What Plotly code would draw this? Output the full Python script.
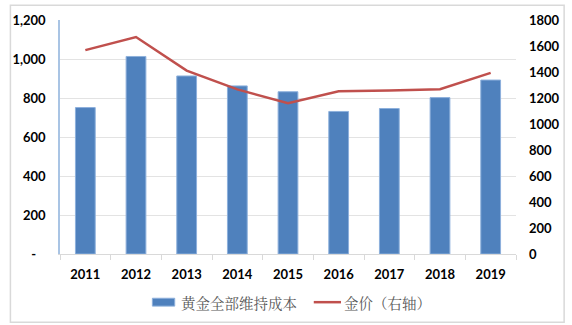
import plotly.graph_objects as go

years = ["2011", "2012", "2013", "2014", "2015", "2016", "2017", "2018", "2019"]
aisc = [751, 1013, 913, 862, 832, 731, 746, 802, 892]          # 黄金全部维持成本
gold_price = [1568, 1669, 1411, 1266, 1160, 1251, 1257, 1268, 1393]  # 金价

left_ticks = [0, 200, 400, 600, 800, 1000, 1200]
left_labels = ["-\u00a0\u00a0\u00a0", "200", "400", "600", "800", "1,000", "1,200"]
right_ticks = [0, 200, 400, 600, 800, 1000, 1200, 1400, 1600, 1800]

bar_name = "黄金全部维持成本"
line_name = "金价（右轴）"
bar_color = "#4F81BD"
line_color = "#C0504D"

W, H = 572, 325
ML, MR, MT, MB = 52, 51, 16, 71
pw, ph = W - ML - MR, H - MT - MB


def px_x(x):
    return (x - ML) / pw


def px_y(y):
    return (H - MB - y) / ph


tick_font = dict(family="Lato, Carlito, Liberation Sans, sans-serif", size=13,
                 color="#000000", weight="bold")
legend_font = dict(family="Noto Serif CJK SC, Noto Sans CJK SC, serif", size=14.5, color="#595959")

fig = go.Figure()
fig.add_trace(go.Bar(
    x=years, y=aisc, name=bar_name,
    marker=dict(color=bar_color, line=dict(color="#8db0dc", width=1)),
    yaxis="y",
))
fig.add_trace(go.Scatter(
    x=years, y=gold_price, name=line_name, mode="lines",
    line=dict(color=line_color, width=2.5),
    yaxis="y2",
))

# outer chart border
fig.add_shape(type="rect", xref="paper", yref="paper",
              x0=px_x(1), x1=px_x(W - 1.5), y0=px_y(H - 1.5), y1=px_y(1),
              line=dict(color="#d9d9d9", width=1.5), layer="below")

# legend keys and labels
fig.add_shape(type="rect", xref="paper", yref="paper",
              x0=px_x(147), x1=px_x(170), y0=px_y(307), y1=px_y(299),
              fillcolor=bar_color, line=dict(color="#8db0dc", width=1))
fig.add_annotation(xref="paper", yref="paper", x=px_x(174), y=px_y(303),
                   xanchor="left", yanchor="middle", showarrow=False,
                   text=bar_name, font=legend_font)
fig.add_shape(type="line", xref="paper", yref="paper",
              x0=px_x(313), x1=px_x(341), y0=px_y(303), y1=px_y(303),
              line=dict(color=line_color, width=2.5))
fig.add_annotation(xref="paper", yref="paper", x=px_x(342), y=px_y(303),
                   xanchor="left", yanchor="middle", showarrow=False,
                   text=line_name, font=legend_font)

fig.update_layout(
    width=W, height=H,
    margin=dict(l=ML, r=MR, t=MT, b=MB),
    paper_bgcolor="white", plot_bgcolor="white",
    bargap=0.61,
    showlegend=False,
    xaxis=dict(type="category", showgrid=False, showline=True, linecolor="#d9d9d9", linewidth=1,
               ticks="outside", tickson="boundaries", ticklen=5, tickcolor="#d9d9d9",
               tickfont=tick_font, ticklabelstandoff=8),
    yaxis=dict(range=[0, 1200], tickvals=left_ticks, ticktext=left_labels,
               showgrid=True, gridcolor="#e3e3e3", gridwidth=1,
               showline=True, linecolor="#a9c4e4", linewidth=1.5,
               zeroline=False, ticks="", tickfont=tick_font, ticklabelstandoff=10),
    yaxis2=dict(range=[0, 1800], tickvals=right_ticks, overlaying="y", side="right",
                showgrid=False, showline=False, zeroline=False, ticks="",
                tickfont=tick_font, ticklabelstandoff=12),
)

fig.write_html("out.html")
